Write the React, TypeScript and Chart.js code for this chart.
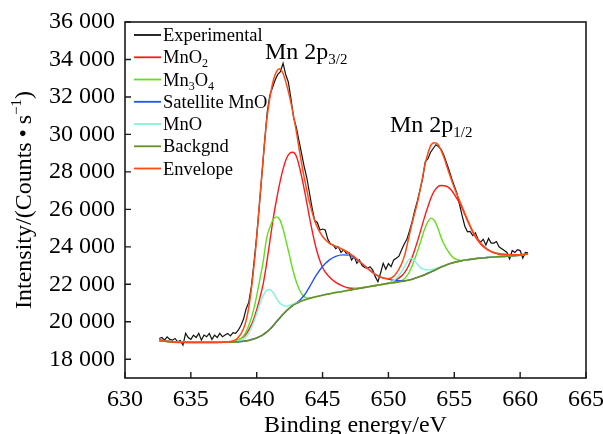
import React, { useEffect, useRef } from "react";
import { Chart, registerables } from "chart.js";

Chart.register(...registerables);

const SERIF = "'Liberation Serif', 'Times New Roman', serif";

// Energy grid (eV) shared by the fitted components
const fitEnergy = [
  632.6, 633, 634, 635, 636, 637, 637.5, 638, 638.5, 639,
  639.25, 639.5, 639.75, 640, 640.25, 640.5, 640.75, 641, 641.25, 641.5,
  641.75, 642, 642.25, 642.5, 642.75, 643, 643.25, 643.5, 643.75, 644,
  644.5, 645, 645.5, 646, 646.5, 647, 647.5, 648, 648.5, 649,
  649.5, 650, 650.5, 651, 651.25, 651.5, 651.75, 652, 652.25, 652.5,
  652.75, 653, 653.25, 653.5, 653.75, 654, 654.25, 654.5, 654.75, 655,
  655.5, 656, 656.5, 657, 657.5, 658, 659, 660, 660.6,
];

const backgroundCounts = [
  19000, 18960, 18920, 18900, 18900, 18900, 18905, 18910, 18930, 18960,
  18990, 19030, 19080, 19140, 19220, 19320, 19450, 19600, 19790, 20000,
  20200, 20400, 20580, 20740, 20870, 20970, 21060, 21130, 21190, 21250,
  21340, 21420, 21490, 21560, 21620, 21680, 21750, 21810, 21870, 21930,
  21990, 22050, 22100, 22150, 22180, 22220, 22260, 22320, 22380, 22440,
  22510, 22590, 22670, 22750, 22840, 22920, 22990, 23060, 23120, 23170,
  23250, 23310, 23360, 23400, 23430, 23460, 23500, 23550, 23620,
];

const mno2Counts = [
  19000, 18960, 18920, 18900, 18900, 18900, 18910, 18930, 19000, 19200,
  19400, 19700, 20100, 20650, 21300, 22050, 23100, 24300, 25500, 26500,
  27400, 28150, 28700, 29000, 29050, 28850, 28250, 27450, 26550, 25600,
  23950, 22900, 22400, 22100, 21920, 21800, 21780, 21820, 21875, 21935,
  21995, 22060, 22200, 22450, 22650, 22950, 23350, 23850, 24400, 25000,
  25600, 26150, 26650, 27000, 27200, 27270, 27260, 27200, 27050, 26800,
  26200, 25400, 24650, 24150, 23850, 23680, 23560, 23560, 23620,
];

const mn3o4Counts = [
  19000, 18960, 18920, 18900, 18900, 18900, 18905, 18920, 18990, 19250,
  19550, 20000, 20600, 21400, 22300, 23250, 24450, 25050, 25450, 25600,
  25450, 24950, 24250, 23500, 22750, 22150, 21700, 21420, 21280, 21260,
  21340, 21420, 21490, 21560, 21620, 21680, 21750, 21810, 21870, 21930,
  21990, 22050, 22100, 22200, 22320, 22550, 22900, 23350, 23850, 24400,
  24950, 25350, 25530, 25400, 25000, 24500, 24100, 23800, 23550, 23380,
  23280, 23310, 23360, 23400, 23430, 23460, 23500, 23550, 23620,
];

const satelliteMnoCounts = [
  19000, 18960, 18920, 18900, 18900, 18900, 18905, 18910, 18930, 18960,
  18990, 19030, 19080, 19140, 19220, 19320, 19450, 19600, 19790, 20000,
  20200, 20400, 20580, 20740, 20890, 21010, 21140, 21320, 21560, 21850,
  22460, 22950, 23290, 23490, 23570, 23560, 23380, 23100, 22800, 22530,
  22360, 22270, 22200, 22180, 22190, 22225, 22260, 22320, 22380, 22440,
  22510, 22590, 22670, 22750, 22840, 22920, 22990, 23060, 23120, 23170,
  23250, 23310, 23360, 23400, 23430, 23460, 23500, 23550, 23620,
];

const mnoCounts = [
  19000, 18960, 18920, 18900, 18900, 18900, 18905, 18915, 18960, 19100,
  19250, 19550, 19950, 20450, 20980, 21400, 21680, 21720, 21550, 21250,
  21000, 20870, 20830, 20880, 20950, 21010, 21080, 21140, 21195, 21250,
  21340, 21420, 21490, 21560, 21620, 21680, 21750, 21810, 21870, 21930,
  21990, 22050, 22250, 22680, 22980, 23280, 23390, 23250, 23020, 22860,
  22790, 22770, 22790, 22820, 22870, 22930, 22990, 23060, 23120, 23170,
  23250, 23310, 23360, 23400, 23430, 23460, 23500, 23550, 23620,
];

const envelopeCounts = [
  19050, 18980, 18900, 18890, 18890, 18900, 18910, 18945, 19090, 19630,
  20220, 21250, 22700, 24500, 26700, 28800, 30700, 31950, 32850, 33350,
  33500, 33250, 32700, 32000, 31150, 30200, 29100, 28100, 27200, 26400,
  25200, 24550, 24200, 24030, 23870, 23680, 23410, 23110, 22800, 22530,
  22360, 22300, 22500, 23100, 23600, 24350, 25120, 25810, 26510, 27370,
  28310, 29000, 29450, 29550, 29480, 29150, 28700, 28150, 27650, 27150,
  26300, 25450, 24700, 24200, 23880, 23700, 23590, 23580, 23640,
];

// Measured spectrum: first energy and channel step (eV)
const experimentalStart = 632.6;
const experimentalStep = 0.2;
const experimentalCounts = [
  19110, 19160, 19020, 19200, 19060, 19020, 19110, 18930, 19000, 18750,
  19380, 19160, 19060, 19290, 19160, 19380, 19020, 19290, 19200, 19380,
  19060, 19290, 19160, 19380, 19200, 19290, 19380, 19250, 19420, 19380,
  19550, 19800, 20150, 20700, 21050, 21900, 23200, 24600, 26200, 27900,
  29600, 31200, 32100, 32500, 32900, 33200, 33350, 33800, 33200, 32800,
  31900, 30900, 30400, 29700, 29000, 28300, 27700, 26900, 26100, 25400,
  25300, 24900, 24950, 24900, 24400, 24150, 24100, 23900, 24000, 23700,
  23850, 23650, 23700, 23300, 23480, 23120, 23300, 23000, 22900, 22850,
  22940, 22770, 22410, 22140, 22590, 23120, 22800, 23100, 22940, 23300,
  23390, 23500, 23840, 24150, 24400, 24850, 25350, 25950, 26450, 27050,
  27650, 28550, 28700, 29050, 29250, 29450, 29350, 29200, 28900, 28500,
  28100, 27650, 27250, 26850, 26250, 25650, 25100, 24800, 24820, 24600,
  24750, 24400, 24250, 24400, 24100, 24450, 24200, 24200, 24280, 24000,
  23900, 23800, 23700, 23350, 23800, 23700, 23850, 23800, 23400, 23700,
  23680,
];

const xTickValues = [630, 635, 640, 645, 650, 655, 660, 665];
const yTickValues = [18000, 20000, 22000, 24000, 26000, 28000, 30000, 32000, 34000, 36000];

const COLORS = {
  experimental: "#111111",
  mno2: "#ff1a1a",
  mn3o4: "#5fe01a",
  satellite: "#1f4fff",
  mno: "#7ff5d8",
  background: "#6b8e23",
  envelope: "#ff4a14",
};

type Seg = { t: string; size: number; dy: number };

function drawSegs(ctx: CanvasRenderingContext2D, segs: Seg[], x: number, y: number) {
  let cx = x;
  for (const s of segs) {
    ctx.font = `${s.size}px ${SERIF}`;
    ctx.fillText(s.t, cx, y + s.dy);
    cx += ctx.measureText(s.t).width;
  }
  return cx - x;
}

function segsWidth(ctx: CanvasRenderingContext2D, segs: Seg[]) {
  let w = 0;
  for (const s of segs) {
    ctx.font = `${s.size}px ${SERIF}`;
    w += ctx.measureText(s.t).width;
  }
  return w;
}

const formatCounts = (v: number) => String(v).replace(/\B(?=(\d{3})+(?!\d))/g, " ");

const legendItems: { color: string; segs: Seg[] }[] = [
  { color: COLORS.experimental, segs: [{ t: "Experimental", size: 18.5, dy: 0 }] },
  { color: COLORS.mno2, segs: [{ t: "MnO", size: 18.5, dy: 0 }, { t: "2", size: 12, dy: 4 }] },
  {
    color: COLORS.mn3o4,
    segs: [
      { t: "Mn", size: 18.5, dy: 0 },
      { t: "3", size: 12, dy: 4 },
      { t: "O", size: 18.5, dy: 0 },
      { t: "4", size: 12, dy: 4 },
    ],
  },
  { color: COLORS.satellite, segs: [{ t: "Satellite MnO", size: 18.5, dy: 0 }] },
  { color: COLORS.mno, segs: [{ t: "MnO", size: 18.5, dy: 0 }] },
  { color: COLORS.background, segs: [{ t: "Backgnd", size: 18.5, dy: 0 }] },
  { color: COLORS.envelope, segs: [{ t: "Envelope", size: 18.5, dy: 0 }] },
];

const legendRowY = [35, 57.3, 79.5, 101.8, 124, 146.3, 168.5];

const decorPlugin = {
  id: "decor",
  afterDraw(chart: any) {
    const { ctx, chartArea: a, scales } = chart;
    const xs = scales.x;
    const ys = scales.y;
    ctx.save();

    // frame
    ctx.strokeStyle = "#1a1a1a";
    ctx.lineWidth = 1.6;
    ctx.strokeRect(a.left, a.top, a.right - a.left, a.bottom - a.top);

    // inward tick marks
    ctx.lineWidth = 1.4;
    ctx.beginPath();
    xs.ticks.forEach((t: any) => {
      const px = xs.getPixelForValue(t.value);
      ctx.moveTo(px, a.bottom);
      ctx.lineTo(px, a.bottom - 6);
    });
    ys.ticks.forEach((t: any) => {
      const py = ys.getPixelForValue(t.value);
      ctx.moveTo(a.left, py);
      ctx.lineTo(a.left + 6, py);
    });
    ctx.stroke();

    // tick labels
    ctx.fillStyle = "#000";
    ctx.font = `24px ${SERIF}`;
    ctx.textAlign = "center";
    ctx.textBaseline = "alphabetic";
    xs.ticks.forEach((t: any) => {
      ctx.fillText(String(t.value), xs.getPixelForValue(t.value), a.bottom + 28);
    });
    ctx.textAlign = "right";
    ctx.textBaseline = "middle";
    ys.ticks.forEach((t: any) => {
      ctx.fillText(formatCounts(t.value), a.left - 10, ys.getPixelForValue(t.value));
    });

    // axis titles
    ctx.textAlign = "center";
    ctx.textBaseline = "alphabetic";
    ctx.font = `24px ${SERIF}`;
    ctx.fillText("Binding energy/eV", (a.left + a.right) / 2, 432);

    ctx.textAlign = "left";
    const ySegs: Seg[] = [
      { t: "Intensity/(Counts\u2009\u2022\u2009s", size: 24, dy: 0 },
      { t: "\u22121", size: 15, dy: -10 },
      { t: ")", size: 24, dy: 0 },
    ];
    ctx.save();
    ctx.translate(31, (a.top + a.bottom) / 2);
    ctx.rotate(-Math.PI / 2);
    drawSegs(ctx, ySegs, -segsWidth(ctx, ySegs) / 2, 0);
    ctx.restore();

    // peak labels
    drawSegs(ctx, [{ t: "Mn 2p", size: 24, dy: 0 }, { t: "3/2", size: 15, dy: 5 }], 265, 58.5);
    drawSegs(ctx, [{ t: "Mn 2p", size: 24, dy: 0 }, { t: "1/2", size: 15, dy: 5 }], 390, 131.5);

    // legend
    legendItems.forEach((item, i) => {
      const y = legendRowY[i];
      ctx.strokeStyle = item.color;
      ctx.lineWidth = 1.8;
      ctx.beginPath();
      ctx.moveTo(134, y);
      ctx.lineTo(161, y);
      ctx.stroke();
      ctx.fillStyle = "#000";
      drawSegs(ctx, item.segs, 163, y + 6);
    });

    ctx.restore();
  },
};

const curve = (values: number[]) => values.map((y, i) => ({ x: fitEnergy[i], y }));

export default function App() {
  const canvasRef = useRef<HTMLCanvasElement | null>(null);

  useEffect(() => {
    if (!canvasRef.current) return;
    const experimental = experimentalCounts.map((y, i) => ({
      x: +(experimentalStart + i * experimentalStep).toFixed(1),
      y,
    }));
    const smooth = { pointRadius: 0, borderWidth: 1.4, cubicInterpolationMode: "monotone" as const, fill: false };
    const chart = new Chart(canvasRef.current, {
      type: "line",
      data: {
        datasets: [
          { label: "Experimental", data: experimental, borderColor: COLORS.experimental, borderWidth: 1.2, pointRadius: 0, tension: 0, order: 6 },
          { label: "MnO2", data: curve(mno2Counts), borderColor: COLORS.mno2, ...smooth, order: 5 },
          { label: "Mn3O4", data: curve(mn3o4Counts), borderColor: COLORS.mn3o4, ...smooth, order: 4 },
          { label: "Satellite MnO", data: curve(satelliteMnoCounts), borderColor: COLORS.satellite, ...smooth, order: 3 },
          { label: "MnO", data: curve(mnoCounts), borderColor: COLORS.mno, ...smooth, order: 2 },
          { label: "Backgnd", data: curve(backgroundCounts), borderColor: COLORS.background, ...smooth, borderWidth: 1.6, order: 1 },
          { label: "Envelope", data: curve(envelopeCounts), borderColor: COLORS.envelope, ...smooth, borderWidth: 1.5, order: 0 },
        ],
      },
      options: {
        animation: false,
        responsive: false,
        devicePixelRatio: 1,
        layout: { padding: { left: 0, right: 17, top: 22, bottom: 0 } },
        plugins: { legend: { display: false }, tooltip: { enabled: false } },
        scales: {
          x: {
            type: "linear",
            min: 630,
            max: 665,
            ticks: { display: false },
            grid: { display: false, drawTicks: false },
            border: { display: false },
            afterBuildTicks: (s: any) => {
              s.ticks = xTickValues.map((v) => ({ value: v }));
            },
            afterFit: (s: any) => {
              s.height = 56;
            },
          },
          y: {
            type: "linear",
            min: 17000,
            max: 36000,
            ticks: { display: false },
            grid: { display: false, drawTicks: false },
            border: { display: false },
            afterBuildTicks: (s: any) => {
              s.ticks = yTickValues.map((v) => ({ value: v }));
            },
            afterFit: (s: any) => {
              s.width = 125;
            },
          },
        },
      },
      plugins: [decorPlugin],
    });
    return () => chart.destroy();
  }, []);

  return (
    <div style={{ position: "absolute", left: 0, top: 0, width: 603, height: 434, background: "#fff" }}>
      <canvas ref={canvasRef} width={603} height={434} style={{ display: "block" }} />
    </div>
  );
}
